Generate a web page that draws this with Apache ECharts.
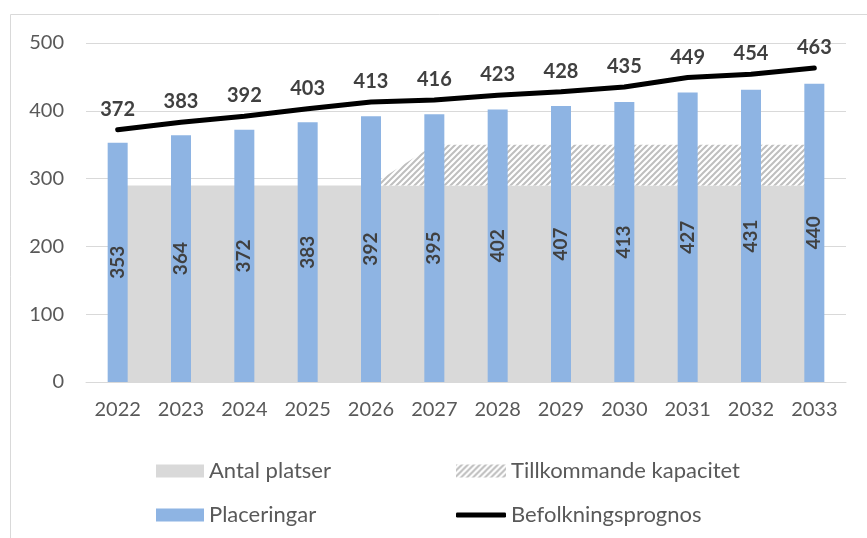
<!DOCTYPE html>
<html>
<head>
<meta charset="utf-8">
<script src="https://cdn.jsdelivr.net/npm/echarts@6/dist/echarts.min.js"></script>
<style>
  html, body { margin: 0; padding: 0; background: #fff; }
  #chart { width: 867px; height: 538px; }
</style>
</head>
<body>
<div id="chart"></div>
<script>
// data
var years = ['2022', '2023', '2024', '2025', '2026', '2027', '2028', '2029', '2030', '2031', '2032', '2033'];
var antalPlatser = [290, 290, 290, 290, 290, 290, 290, 290, 290, 290, 290, 290];
var tillkommande = ['-', '-', '-', '-', 0, 60, 60, 60, 60, 60, 60, 60];
var placeringar = [353, 364, 372, 383, 392, 395, 402, 407, 413, 427, 431, 440];
var befolkning = [372, 383, 392, 403, 413, 416, 423, 428, 435, 449, 454, 463];

// hatch pattern for the added capacity
var hatch = document.createElement('canvas');
hatch.width = 6;
hatch.height = 6;
var ctx = hatch.getContext('2d');
ctx.fillStyle = '#ffffff';
ctx.fillRect(0, 0, 6, 6);
ctx.strokeStyle = '#bfbfbf';
ctx.lineWidth = 2;
ctx.beginPath();
ctx.moveTo(-1, 7); ctx.lineTo(7, -1);
ctx.moveTo(-4, 4); ctx.lineTo(4, -4);
ctx.moveTo(2, 10); ctx.lineTo(10, 2);
ctx.stroke();
var hatchFill = { image: hatch, repeat: 'repeat' };

var font = 'Lato';
var txt = '#595959';
var legendText = { fontFamily: font, fontSize: 22, color: txt };

var chart = echarts.init(document.getElementById('chart'));
chart.setOption({
    animation: false,
    textStyle: { fontFamily: font },
    graphic: [{
        type: 'rect',
        shape: { x: 10.5, y: 14.5, width: 900, height: 600 },
        style: { fill: 'none', stroke: '#d9d9d9', lineWidth: 1 },
        silent: true
    }],
    grid: { left: 86, right: 21, top: 43, bottom: 156 },
    legend: [
        { left: 151, top: 455, itemWidth: 48, itemHeight: 13, itemGap: 0, textStyle: legendText,
          data: [{ name: 'Antal platser', icon: 'rect' }] },
        { left: 451, top: 455, itemWidth: 50, itemHeight: 13, itemGap: 0, textStyle: legendText,
          data: [{ name: 'Tillkommande kapacitet', icon: 'rect' }] },
        { left: 151, top: 499, itemWidth: 48, itemHeight: 13, itemGap: 0, textStyle: legendText,
          data: [{ name: 'Placeringar', icon: 'rect' }] },
        { left: 451, top: 499, itemWidth: 50, itemHeight: 5, itemGap: 0, textStyle: legendText,
          data: [{ name: 'Befolkningsprognos', icon: 'roundRect' }] }
    ],
    xAxis: {
        type: 'category',
        data: years,
        axisLine: { lineStyle: { color: '#d9d9d9', width: 1 } },
        axisTick: { show: false },
        axisLabel: { color: txt, fontSize: 20, margin: 18 }
    },
    yAxis: {
        type: 'value',
        min: 0,
        max: 500,
        interval: 100,
        axisLine: { show: false },
        axisTick: { show: false },
        splitLine: { lineStyle: { color: '#d9d9d9', width: 1 } },
        axisLabel: { color: txt, fontSize: 20, margin: 22 }
    },
    series: [
        {
            name: 'Antal platser',
            type: 'line',
            stack: 'kap',
            z: 1,
            data: antalPlatser,
            symbol: 'none',
            color: '#d9d9d9',
            itemStyle: { color: '#d9d9d9' },
            lineStyle: { width: 0 },
            areaStyle: { color: '#d9d9d9', opacity: 1 }
        },
        {
            name: 'Tillkommande kapacitet',
            type: 'line',
            stack: 'kap',
            z: 1,
            data: tillkommande,
            symbol: 'none',
            color: hatchFill,
            itemStyle: { color: hatchFill },
            lineStyle: { width: 0 },
            areaStyle: { color: hatchFill, opacity: 1 }
        },
        {
            name: 'Placeringar',
            type: 'bar',
            z: 2,
            data: placeringar,
            barWidth: 20,
            itemStyle: { color: '#8eb4e3' },
            label: {
                show: true,
                position: 'inside',
                rotate: 90,
                fontFamily: font,
                fontSize: 19,
                fontWeight: 'bold',
                color: '#404040'
            }
        },
        {
            name: 'Befolkningsprognos',
            type: 'line',
            z: 3,
            data: befolkning,
            symbol: 'circle',
            symbolSize: 1,
            showSymbol: true,
            color: '#000000',
            itemStyle: { color: '#000000' },
            lineStyle: { color: '#000000', width: 5, cap: 'round' },
            label: {
                show: true,
                position: 'top',
                distance: 10,
                fontFamily: font,
                fontSize: 20,
                fontWeight: 'bold',
                color: '#404040'
            }
        }
    ]
});
</script>
</body>
</html>
